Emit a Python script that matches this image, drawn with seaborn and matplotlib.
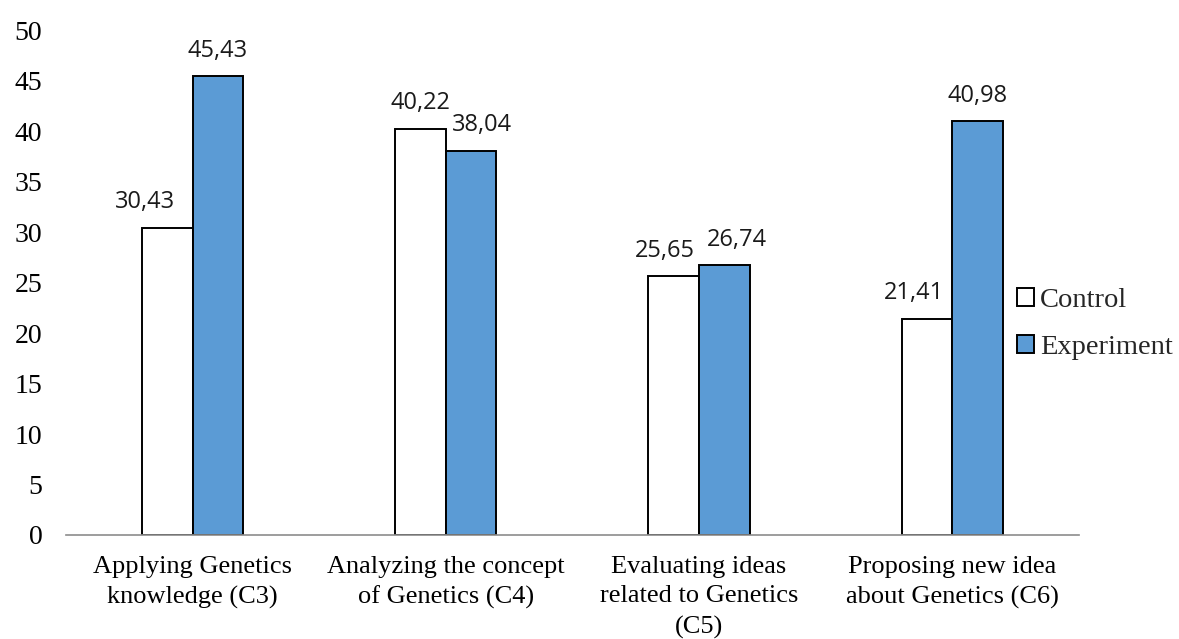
import pandas as pd
import matplotlib
matplotlib.use('Agg')
import matplotlib.pyplot as plt
import seaborn as sns

# Data
skills = ['Applying Genetics\nknowledge (C3)',
          'Analyzing the concept\nof Genetics (C4)',
          'Evaluating ideas\nrelated to Genetics\n(C5)',
          'Proposing new idea\nabout Genetics (C6)']
control = [30.43, 40.22, 25.65, 21.41]
experiment = [45.43, 38.04, 26.74, 40.98]
groups = ['Control', 'Experiment']

# small horizontal nudges of the value labels (points), as placed in the original
label_nudge = {'Control': [-16, 0, -6, -9], 'Experiment': [0, 8, 9, 0]}

df = pd.DataFrame({
    'skill': skills * 2,
    'score': control + experiment,
    'group': ['Control'] * len(skills) + ['Experiment'] * len(skills),
})

sns.set_theme(style='white')
plt.rcParams['font.family'] = ['Liberation Serif', 'DejaVu Serif']

fig = plt.figure(figsize=(11.79, 6.39), dpi=100)
ax = fig.add_axes([0.056, 0.1628, 0.859, 0.790])

sns.barplot(data=df, x='skill', y='score', hue='group', hue_order=groups,
            palette=['white', '#5B9BD5'], saturation=1, edgecolor='black',
            linewidth=1.4, width=0.4, gap=0, ax=ax, legend=True)

# value labels
for cont, grp in zip(ax.containers, groups):
    for bar, dx in zip(cont, label_nudge[grp]):
        h = bar.get_height()
        ax.annotate(f'{h:.2f}'.replace('.', ','),
                    xy=(bar.get_x() + bar.get_width() / 2, h),
                    xytext=(dx, 14), textcoords='offset points',
                    ha='center', va='baseline', fontsize=17,
                    family=['Open Sans', 'DejaVu Sans'], color='#1a1a1a')

ax.set_ylim(0, 50)
ax.set_xlim(-0.5, 3.5)
ax.set_yticks(range(0, 51, 5))
ax.set_xlabel('')
ax.set_ylabel('')
ax.tick_params(axis='y', length=0, pad=17, labelsize=20, labelcolor='black')
ax.tick_params(axis='x', length=0, pad=15, labelsize=19, labelcolor='black')
for t in ax.get_xticklabels():
    t.set_linespacing(1.45)

for s in ['top', 'right', 'left']:
    ax.spines[s].set_visible(False)
ax.spines['bottom'].set_color('#8c8c8c')
ax.spines['bottom'].set_linewidth(1.2)
ax.grid(False)

handles, labels = ax.get_legend_handles_labels()
ax.legend(handles, labels, loc='center left', frameon=False,
          bbox_to_anchor=(1017 / 1179, 1 - 324 / 639),
          bbox_transform=fig.transFigure, borderaxespad=0, borderpad=0,
          fontsize=20.5, handlelength=0.6, handleheight=0.6,
          handletextpad=0.2, labelspacing=0.75)

fig.savefig('out.png', dpi=100)
